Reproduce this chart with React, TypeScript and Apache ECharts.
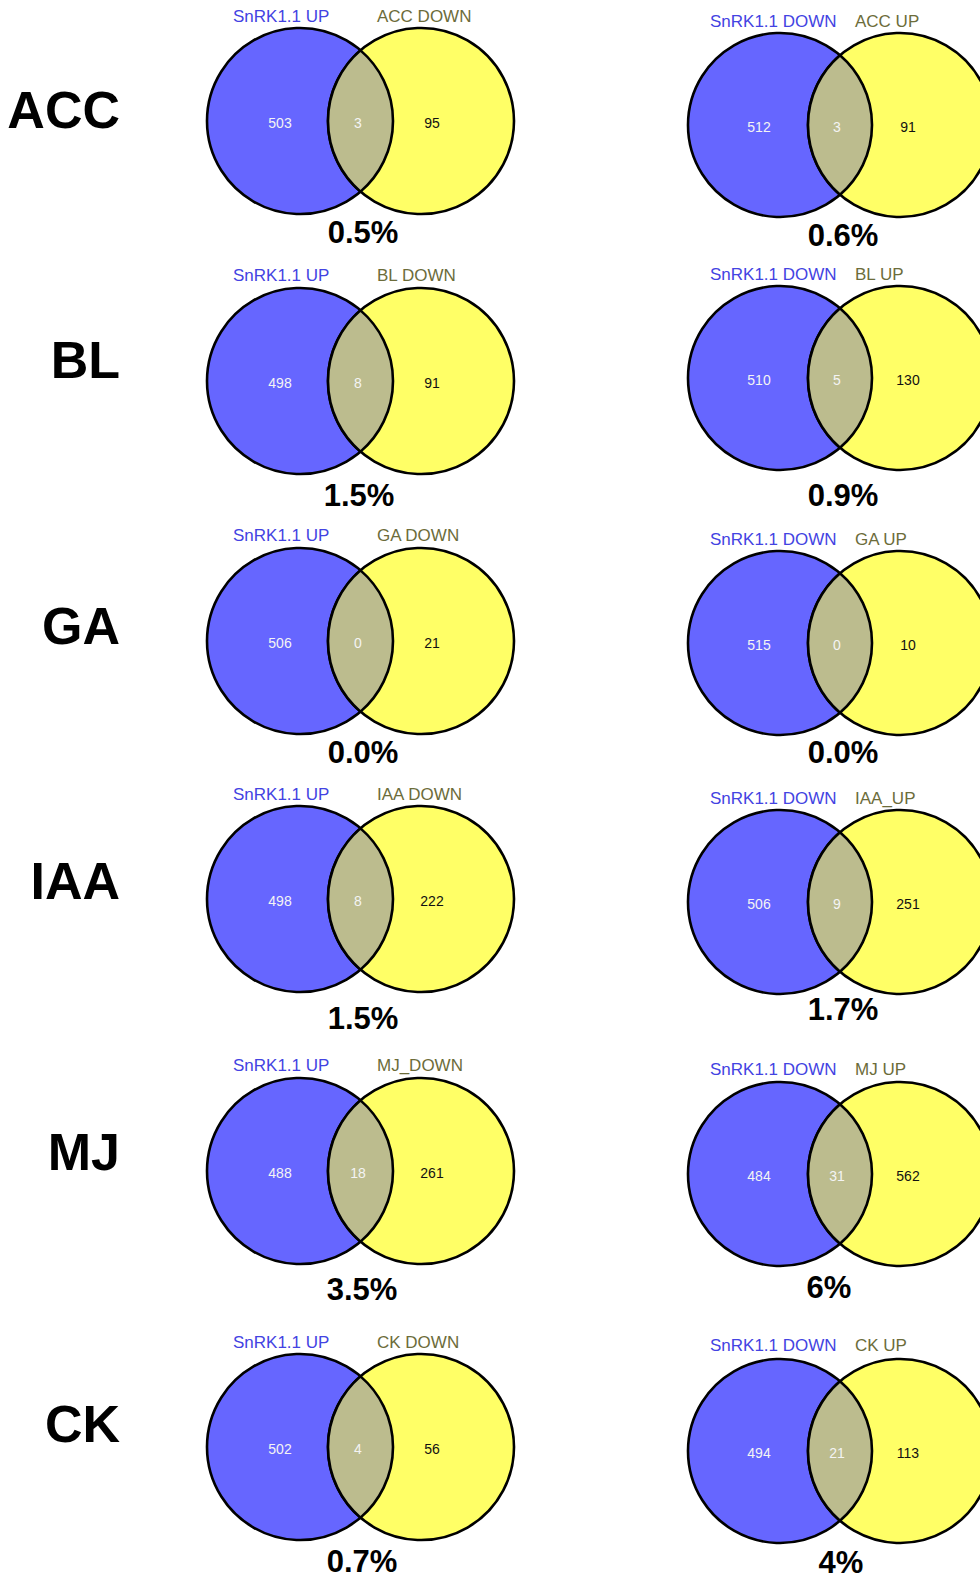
import React, { useEffect, useRef } from "react";
import * as echarts from "echarts";

// ---- data ----
const rowNames = ["ACC", "BL", "GA", "IAA", "MJ", "CK"];

// left column: SnRK1.1 UP vs hormone DOWN
const upSetName = "SnRK1.1 UP";
const hormoneDownNames = ["ACC DOWN", "BL DOWN", "GA DOWN", "IAA DOWN", "MJ_DOWN", "CK DOWN"];
const snrkUpOnly = [503, 498, 506, 498, 488, 502];
const upOverlap = [3, 8, 0, 8, 18, 4];
const hormoneDownOnly = [95, 91, 21, 222, 261, 56];
const upPercent = ["0.5%", "1.5%", "0.0%", "1.5%", "3.5%", "0.7%"];

// right column: SnRK1.1 DOWN vs hormone UP
const downSetName = "SnRK1.1 DOWN";
const hormoneUpNames = ["ACC UP", "BL UP", "GA UP", "IAA_UP", "MJ UP", "CK UP"];
const snrkDownOnly = [512, 510, 515, 506, 484, 494];
const downOverlap = [3, 5, 0, 9, 31, 21];
const hormoneUpOnly = [91, 130, 10, 251, 562, 113];
const downPercent = ["0.6%", "0.9%", "0.0%", "1.7%", "6%", "4%"];

// ---- layout (page coordinates, mapped through the axes) ----
const colLayout = [
  { cx1: 300, cx2: 421, r: 93, nA: 280, nB: 358, nC: 432, lab1: 233, lab2: 377 },
  { cx1: 780, cx2: 900, r: 92, nA: 759, nB: 837, nC: 908, lab1: 710, lab2: 855 },
];
// per column, per row: circle centre y, top label y, percent y, percent x
const rowLayout = [
  [
    { cy: 121, ly: 16, py: 232, px: 363 },
    { cy: 381, ly: 275, py: 495, px: 359 },
    { cy: 641, ly: 535, py: 752, px: 363 },
    { cy: 899, ly: 794, py: 1018, px: 363 },
    { cy: 1171, ly: 1065, py: 1289, px: 362 },
    { cy: 1447, ly: 1342, py: 1561, px: 362 },
  ],
  [
    { cy: 125, ly: 21, py: 235, px: 843 },
    { cy: 378, ly: 274, py: 495, px: 843 },
    { cy: 643, ly: 539, py: 752, px: 843 },
    { cy: 902, ly: 798, py: 1009, px: 843 },
    { cy: 1174, ly: 1069, py: 1287, px: 829 },
    { cy: 1451, ly: 1345, py: 1562, px: 841 },
  ],
];
const rowLabelY = [110, 360, 626, 881, 1152, 1424];
const rowLabelRight = 120;

const BLUE = "#6666ff";
const YELLOW = "#ffff66";
const LENS = "#bcbc8e";
const BLUE_TEXT = "#4343e2";
const OLIVE_TEXT = "#6c6c3a";
const FONT = "'Liberation Sans', Arial, Helvetica, sans-serif";

export default function App() {
  const ref = useRef<HTMLDivElement>(null);

  useEffect(() => {
    if (!ref.current) return;
    const chart = echarts.init(ref.current, undefined, { renderer: "svg" });

    const panels: number[][] = [];
    for (let c = 0; c < 2; c++) for (let r = 0; r < rowNames.length; r++) panels.push([c, r]);

    const renderItem = (params: any, api: any) => {
      const col = api.value(0);
      const row = api.value(1);
      const cl = colLayout[col];
      const rl = rowLayout[col][row];
      const a = api.coord([cl.cx1, rl.cy]);
      const b = api.coord([cl.cx2, rl.cy]);
      const rad = api.size([cl.r, 0])[0];
      const d = b[0] - a[0];
      const mx = a[0] + d / 2;
      const h = Math.sqrt(rad * rad - (d / 2) * (d / 2));
      const top = a[1] - h;
      const bot = a[1] + h;
      const lensPath = `M${mx} ${top} A${rad} ${rad} 0 0 1 ${mx} ${bot} A${rad} ${rad} 0 0 1 ${mx} ${top} Z`;

      const only1 = col === 0 ? snrkUpOnly[row] : snrkDownOnly[row];
      const both = col === 0 ? upOverlap[row] : downOverlap[row];
      const only2 = col === 0 ? hormoneDownOnly[row] : hormoneUpOnly[row];
      const pct = col === 0 ? upPercent[row] : downPercent[row];
      const name1 = col === 0 ? upSetName : downSetName;
      const name2 = col === 0 ? hormoneDownNames[row] : hormoneUpNames[row];

      const nY = api.coord([0, rl.cy + 1.5])[1];
      const lY = api.coord([0, rl.ly])[1];
      const pP = api.coord([rl.px, rl.py]);

      const children: any[] = [
        {
          type: "circle",
          shape: { cx: a[0], cy: a[1], r: rad },
          style: { fill: BLUE, stroke: "#000", lineWidth: 2.6 },
        },
        {
          type: "circle",
          shape: { cx: b[0], cy: b[1], r: rad },
          style: { fill: YELLOW, stroke: "#000", lineWidth: 2.6 },
        },
        {
          type: "path",
          shape: { pathData: lensPath },
          style: { fill: LENS, stroke: "#000", lineWidth: 2.6 },
        },
        {
          type: "text",
          style: {
            text: String(only1), x: api.coord([cl.nA, 0])[0], y: nY,
            fill: "#f4f4f4", fontSize: 14, fontFamily: FONT, align: "center", verticalAlign: "middle",
          },
        },
        {
          type: "text",
          style: {
            text: String(both), x: api.coord([cl.nB, 0])[0], y: nY,
            fill: "#f4f4f4", fontSize: 14, fontFamily: FONT, align: "center", verticalAlign: "middle",
          },
        },
        {
          type: "text",
          style: {
            text: String(only2), x: api.coord([cl.nC, 0])[0], y: nY,
            fill: "#111", fontSize: 14, fontFamily: FONT, align: "center", verticalAlign: "middle",
          },
        },
        {
          type: "text",
          style: {
            text: name1, x: api.coord([cl.lab1, 0])[0], y: lY,
            fill: BLUE_TEXT, fontSize: 17, fontFamily: FONT, align: "left", verticalAlign: "middle",
          },
        },
        {
          type: "text",
          style: {
            text: name2, x: api.coord([cl.lab2, 0])[0], y: lY,
            fill: OLIVE_TEXT, fontSize: 17, fontFamily: FONT, align: "left", verticalAlign: "middle",
          },
        },
        {
          type: "text",
          style: {
            text: pct, x: pP[0], y: pP[1],
            fill: "#000", fontSize: 31, fontWeight: "bold", fontFamily: FONT, align: "center", verticalAlign: "middle",
          },
        },
      ];
      if (col === 0) {
        const rp = api.coord([rowLabelRight, rowLabelY[row]]);
        children.push({
          type: "text",
          style: {
            text: rowNames[row], x: rp[0], y: rp[1],
            fill: "#000", fontSize: 52, fontWeight: "bold", fontFamily: FONT, align: "right", verticalAlign: "middle",
          },
        });
      }
      return { type: "group", children };
    };

    chart.setOption({
      animation: false,
      backgroundColor: "#ffffff",
      grid: { left: 0, right: 0, top: 0, bottom: 0 },
      xAxis: { type: "value", min: 0, max: 980, show: false },
      yAxis: { type: "value", min: 0, max: 1580, inverse: true, show: false },
      series: [
        {
          type: "custom",
          renderItem,
          clip: false,
          encode: { x: 0, y: 1 },
          data: panels,
          silent: true,
        },
      ],
    });

    return () => chart.dispose();
  }, []);

  return (
    <div
      ref={ref}
      style={{ position: "absolute", left: 0, top: 0, width: 980, height: 1580, background: "#fff" }}
    />
  );
}
